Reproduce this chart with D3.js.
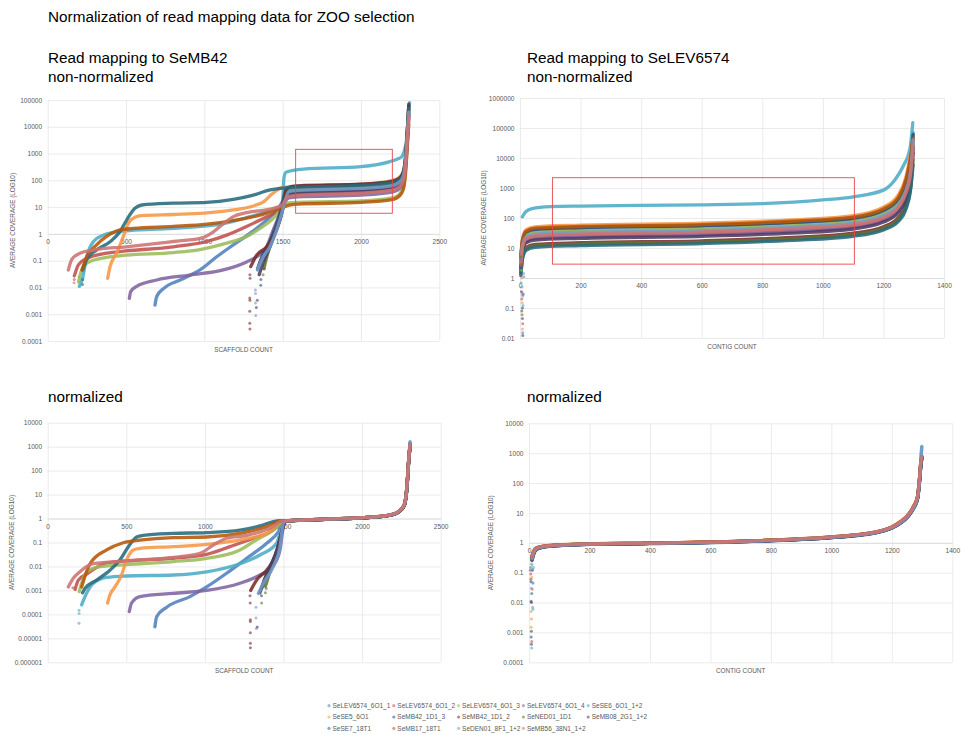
<!DOCTYPE html>
<html><head><meta charset="utf-8">
<script src="https://cdn.jsdelivr.net/npm/d3@7"></script>
<style>
body{margin:0;background:#fff}
text{font-family:"Liberation Sans",Arial,sans-serif}
</style>
</head><body>
<svg id="c" width="961" height="735"></svg>
<script>
// ---------- categories ----------
const seriesNames = ["SeLEV6574_6O1_1","SeLEV6574_6O1_2","SeLEV6574_6O1_3","SeLEV6574_6O1_4","SeSE6_6O1_1+2",
  "SeSE5_6O1","SeMB42_1D1_3","SeMB42_1D1_2","SeNED01_1D1","SeMB08_2G1_1+2",
  "SeSE7_18T1","SeMB17_18T1","SeDEN01_8F1_1+2","SeMB56_38N1_1+2"];
const seriesColors = ["#4F81BD","#C0504D","#9BBB59","#8064A2","#4BACC6","#F79646","#2C4D75",
  "#772C2A","#5F7530","#4D3B62","#276A7C","#B65708","#729ACA","#CD7371"];

// ---------- tick labels ----------
const scaffoldTicks = [0,500,1000,1500,2000,2500];
const contigTicks = [0,200,400,600,800,1000,1200,1400];
const yTicksA = [0.0001,0.001,0.01,0.1,1,10,100,1000,10000,100000];
const yTicksB = [0.01,0.1,1,10,100,1000,10000,100000,1000000];
const yTicksC = [0.000001,0.00001,0.0001,0.001,0.01,0.1,1,10,100,1000,10000];
const yTicksD = [0.0001,0.001,0.01,0.1,1,10,100,1000,10000];

// ---------- series values: [count, average coverage] ----------
// Read mapping to SeMB42, non-normalized
const semb42Raw = [
 [[685,0.0022],[696,0.0046],[739,0.009],[845,0.019],[972,0.045],[1079,0.14],[1185,0.39],[1291,1.05],[1398,3.3],[1462,7.8],[1498,16],[1520,32],[1600,38],[2000,45],[2200,58],[2245,75],[2270,130],[2285,500],[2295,4000],[2305,30000]],
 [[170,0.027],[196,0.07],[249,0.12],[376,0.19],[500,0.23],[802,0.33],[1015,0.52],[1143,0.9],[1270,1.9],[1398,4.4],[1498,9],[1530,25],[1600,29],[2000,34],[2200,44],[2245,58],[2270,100],[2285,400],[2295,3000],[2305,25000]],
 [[198,0.017],[217,0.045],[249,0.08],[334,0.12],[500,0.16],[802,0.2],[972,0.26],[1143,0.45],[1270,0.8],[1355,1.6],[1440,3.8],[1498,9],[1530,14],[1600,15],[2000,17],[2200,22],[2245,30],[2270,55],[2285,250],[2295,2000],[2305,15000]],
 [[521,0.0039],[530,0.007],[568,0.011],[696,0.019],[908,0.029],[1121,0.045],[1270,0.09],[1334,0.14],[1398,0.33],[1440,1.4],[1483,5.9],[1504,12],[1540,22],[1600,24],[2000,28],[2200,36],[2245,48],[2270,85],[2285,350],[2295,2500],[2305,20000]],
 [[202,0.011],[223,0.022],[249,0.14],[291,0.51],[355,0.9],[440,1.2],[500,1.3],[696,1.5],[908,1.75],[1121,2.4],[1291,4.4],[1440,8.3],[1498,12],[1508,120],[1520,200],[1632,262],[2000,324],[2185,500],[2240,650],[2260,760],[2280,1500],[2290,3000],[2300,15000],[2310,80000]],
 [[383,0.022],[398,0.06],[440,0.19],[483,0.8],[515,2.5],[557,4.2],[600,4.8],[800,5.3],[1000,6],[1100,6.8],[1200,8],[1300,10.5],[1380,16],[1430,30],[1470,45],[1500,55],[1600,58],[2000,70],[2200,100],[2245,130],[2270,220],[2285,800],[2295,6000],[2305,50000]],
 [[1340,0.05],[1370,0.15],[1410,0.4],[1450,1.5],[1480,5],[1500,14],[1520,45],[1560,58],[1600,60],[2000,70],[2200,92],[2245,120],[2270,200],[2285,800],[2295,6000],[2305,60000]],
 [[1296,0.06],[1334,0.16],[1398,0.33],[1440,0.8],[1483,3.3],[1504,10.5],[1525,45],[1560,60],[1600,62],[2000,72],[2200,90],[2245,115],[2270,190],[2285,700],[2295,5000],[2305,70000]],
 [[1380,0.05],[1400,0.15],[1430,0.5],[1460,1.5],[1490,5],[1510,15],[1540,40],[1600,45],[2000,52],[2200,68],[2245,90],[2270,150],[2285,600],[2295,4000],[2305,40000]],
 [[1350,0.03],[1380,0.1],[1420,0.35],[1455,1.2],[1485,4],[1505,12],[1535,30],[1600,34],[2000,40],[2200,52],[2245,70],[2270,120],[2285,450],[2295,3500],[2305,30000]],
 [[223,0.045],[249,0.11],[312,0.25],[398,0.51],[461,1.2],[504,3.3],[557,9],[600,12],[802,14],[1015,15],[1185,19.5],[1313,28],[1419,44],[1483,50],[1550,55],[1600,56],[2000,65],[2200,82],[2245,105],[2270,170],[2285,650],[2295,5000],[2305,50000]],
 [[219,0.045],[249,0.14],[312,0.39],[376,0.8],[461,1.4],[546,1.6],[802,1.9],[1015,2.3],[1228,3.5],[1355,5],[1483,9],[1550,12],[1600,13],[2000,15],[2200,19],[2245,26],[2270,45],[2285,200],[2295,1500],[2305,12000]],
 [[1339,0.045],[1377,0.14],[1419,0.33],[1462,1.4],[1494,5.9],[1515,16],[1540,38],[1600,42],[2000,50],[2200,64],[2245,85],[2270,140],[2285,550],[2295,4000],[2305,35000]],
 [[132,0.045],[153,0.11],[206,0.19],[291,0.25],[500,0.33],[802,0.52],[972,0.68],[1058,1.2],[1121,2.4],[1185,4.4],[1270,6.2],[1440,9],[1498,12],[1530,24],[1600,28],[2000,33],[2200,43],[2245,56],[2270,95],[2285,380],[2295,3000],[2305,25000]]
];
// scattered single points [count, coverage, series index]
const semb42RawDots = [[168,0.015,13],[170,0.02,1],[198,0.015,2],[200,0.025,2],[223,0.013,10],[223,0.02,10],
 [1291,0.03,7],[1292,0.022,7],[1290,0.004,7],[1291,0.0033,7],[1290,0.0013,7],[1290,0.00046,7],[1291,0.00028,7],
 [1326,0.008,12],[1327,0.006,12],[1326,0.0026,12],[1328,0.0009,12],[1338,0.0033,9],[1332,0.0018,9],
 [1360,0.012,6],[1361,0.02,6],[1383,0.08,8],[1382,0.05,8],[1375,0.03,8]];

// Read mapping to SeLEV6574, non-normalized
const selevRaw = [
 [[3,4.2],[8,15],[20,29],[50,37],[200,42],[600,49],[900,63],[1100,86],[1200,155],[1250,370],[1275,1300],[1290,7000],[1298,70000]],
 [[3,2.7],[8,9.5],[20,19],[50,24],[200,27],[600,31],[900,41],[1100,55],[1200,96],[1250,210],[1275,630],[1290,2800],[1298,35000]],
 [[3,3.7],[8,13],[20,26],[50,33],[200,37],[600,43],[900,56],[1100,76],[1200,135],[1250,310],[1275,1000],[1290,5000],[1298,30000]],
 [[3,2.4],[8,8.4],[20,17],[50,21],[200,24],[600,28],[900,36],[1100,49],[1200,84],[1250,180],[1275,530],[1290,2300],[1298,20000]],
 [[8,110],[11,125],[20,165],[40,205],[100,238],[200,250],[400,262],[600,275],[800,300],[1000,400],[1100,510],[1200,850],[1240,2000],[1266,5500],[1288,22000],[1297,150000]],
 [[3,6],[8,20],[20,41],[50,51],[200,58],[600,67],[900,87],[1100,120],[1200,230],[1250,600],[1275,2500],[1290,15000],[1298,50000]],
 [[3,4.8],[8,17],[20,34],[50,42],[200,48],[600,56],[900,72],[1100,98],[1200,180],[1250,440],[1275,1700],[1290,9000],[1298,60000]],
 [[3,1.5],[8,5.3],[20,10.5],[50,13.2],[200,15],[600,17.4],[900,22.5],[1100,31],[1200,51],[1250,105],[1275,280],[1290,1200],[1298,15000]],
 [[3,1.35],[8,4.7],[20,9.5],[50,11.9],[200,13.5],[600,15.7],[900,20],[1100,27.7],[1200,45],[1250,92],[1275,240],[1290,1050],[1298,9000]],
 [[3,2.1],[8,7.4],[20,15],[50,18.5],[200,21],[600,24.5],[900,31.5],[1100,43],[1200,73],[1250,155],[1275,440],[1290,1900],[1298,25000]],
 [[3,1.2],[8,4.2],[20,8.4],[50,10.6],[200,12],[600,14],[900,18],[1100,24.6],[1200,40],[1250,78],[1275,205],[1290,900],[1298,6000]],
 [[3,5.2],[8,18],[20,36],[50,46],[200,52],[600,60],[900,78],[1100,107],[1200,200],[1250,500],[1275,2000],[1290,11000],[1298,45000]],
 [[3,3.3],[8,11.5],[20,23],[50,29],[200,33],[600,38],[900,50],[1100,68],[1200,120],[1250,270],[1275,850],[1290,4000],[1298,40000]],
 [[3,2.9],[8,10],[20,20],[50,25.5],[200,29],[600,34],[900,44],[1100,60],[1200,104],[1250,230],[1275,700],[1290,3200],[1298,25000]]
];
const selevRawDots = [[3,4,0],[4,2.5,1],[5,1.8,2],[2,1.2,3],[6,1,5],[4,0.7,4],[7,0.5,12],[5,0.35,7],[8,0.28,13],[9,0.25,12],
 [6,0.2,1],[7,0.15,5],[8,0.1,9],[6,0.08,10],[7,0.06,11],[8,0.045,6],[9,0.03,1],[8,0.02,5],[9,0.015,0],[9,0.012,6],
 [12,1.4,12],[13,1.1,12],[10,0.3,0],[11,0.28,12],[5,3,11],[3,5,8],[10,0.12,4]];

// Read mapping to SeMB42, normalized
const semb42Norm = [
 [[682,0.00003],[693,0.00008],[757,0.0002],[905,0.00055],[1011,0.0014],[1138,0.0052],[1266,0.022],[1393,0.093],[1467,0.28],[1499,0.74],[1550,0.8],[1600,0.84],[1800,0.94],[2000,1.06],[2150,1.28],[2220,1.65],[2245,2.2],[2270,3.8],[2285,18],[2295,180],[2305,1300]],
 [[174,0.0011],[195,0.0027],[248,0.0048],[375,0.014],[498,0.017],[799,0.022],[1011,0.032],[1159,0.067],[1308,0.15],[1435,0.33],[1488,0.7],[1520,0.8],[1600,0.86],[1800,0.95],[2000,1.08],[2150,1.3],[2220,1.7],[2245,2.3],[2270,4],[2285,20],[2295,200],[2305,1200]],
 [[201,0.0009],[216,0.002],[248,0.006],[333,0.0098],[498,0.012],[799,0.016],[1011,0.022],[1223,0.049],[1329,0.13],[1435,0.33],[1488,0.7],[1520,0.8],[1600,0.85],[1800,0.95],[2000,1.08],[2150,1.3],[2220,1.7],[2245,2.3],[2270,4],[2285,20],[2295,190],[2305,1000]],
 [[519,0.00013],[534,0.0003],[587,0.00055],[799,0.00075],[1011,0.001],[1223,0.002],[1350,0.0044],[1435,0.011],[1478,0.049],[1499,0.46],[1520,0.8],[1600,0.85],[1800,0.94],[2000,1.07],[2150,1.29],[2220,1.68],[2245,2.25],[2270,3.9],[2285,19],[2295,190],[2305,1100]],
 [[216,0.00025],[237,0.00055],[290,0.002],[375,0.0035],[498,0.004],[799,0.0044],[1011,0.006],[1223,0.013],[1350,0.03],[1456,0.093],[1494,0.53],[1520,0.8],[1600,0.85],[1800,0.95],[2000,1.08],[2150,1.3],[2220,1.7],[2245,2.3],[2270,4],[2285,20],[2295,200],[2305,1500]],
 [[381,0.0003],[396,0.00065],[428,0.0014],[470,0.0044],[502,0.019],[545,0.049],[587,0.057],[799,0.067],[1011,0.084],[1223,0.13],[1393,0.24],[1467,0.63],[1500,0.8],[1600,0.86],[1800,0.96],[2000,1.09],[2150,1.32],[2220,1.72],[2245,2.35],[2270,4.1],[2285,21],[2295,210],[2305,1100]],
 [[1361,0.0012],[1390,0.004],[1430,0.015],[1465,0.07],[1490,0.3],[1505,0.75],[1550,0.8],[1600,0.84],[1800,0.94],[2000,1.06],[2150,1.28],[2220,1.66],[2245,2.2],[2270,3.8],[2285,18],[2295,180],[2305,1200]],
 [[1291,0.001],[1329,0.0027],[1393,0.007],[1456,0.035],[1499,0.46],[1515,0.8],[1600,0.85],[1800,0.95],[2000,1.07],[2150,1.29],[2220,1.68],[2245,2.25],[2270,3.9],[2285,19],[2295,190],[2305,1300]],
 [[1385,0.0015],[1410,0.005],[1440,0.02],[1470,0.08],[1495,0.4],[1510,0.8],[1600,0.85],[1800,0.95],[2000,1.08],[2150,1.3],[2220,1.7],[2245,2.3],[2270,4],[2285,20],[2295,200],[2305,1000]],
 [[1350,0.0008],[1380,0.003],[1420,0.012],[1460,0.05],[1490,0.3],[1510,0.78],[1600,0.84],[1800,0.94],[2000,1.06],[2150,1.28],[2220,1.66],[2245,2.2],[2270,3.8],[2285,18],[2295,180],[2305,1100]],
 [[222,0.0008],[237,0.0012],[311,0.0027],[396,0.007],[460,0.019],[513,0.067],[566,0.17],[608,0.2],[799,0.24],[1011,0.26],[1223,0.33],[1350,0.49],[1435,0.74],[1478,0.81],[1550,0.82],[1600,0.85],[1800,0.95],[2000,1.07],[2150,1.29],[2220,1.68],[2245,2.25],[2270,3.9],[2285,19],[2295,190],[2305,1200]],
 [[216,0.0014],[269,0.013],[375,0.049],[481,0.098],[587,0.125],[799,0.16],[1011,0.17],[1223,0.24],[1393,0.46],[1478,0.78],[1530,0.8],[1600,0.86],[1800,0.96],[2000,1.09],[2150,1.31],[2220,1.72],[2245,2.35],[2270,4.1],[2285,21],[2295,210],[2305,1000]],
 [[1340,0.00075],[1372,0.002],[1435,0.0098],[1478,0.067],[1499,0.63],[1515,0.8],[1600,0.85],[1800,0.95],[2000,1.08],[2150,1.3],[2220,1.7],[2245,2.3],[2270,4],[2285,20],[2295,200],[2305,1600]],
 [[131,0.0014],[163,0.0032],[205,0.006],[290,0.013],[498,0.017],[799,0.024],[969,0.035],[1054,0.079],[1138,0.15],[1266,0.2],[1435,0.46],[1488,0.78],[1520,0.8],[1600,0.86],[1800,0.96],[2000,1.09],[2150,1.32],[2220,1.72],[2245,2.35],[2270,4.1],[2285,21],[2295,210],[2305,1200]]
];
const semb42NormDots = [[199,0.00015,4],[200,0.00011,4],[199,0.000043,4],[1287,0.0006,7],[1288,0.0003,7],[1289,0.00006,7],
 [1289,0.00005,7],[1289,0.000017,7],[1289,0.0000063,7],[1289,0.000004,7],[1325,0.0002,12],[1325,0.00007,12],
 [1327,0.000026,12],[1333,0.00003,9],[1361,0.0003,8],[1360,0.0006,6],[1385,0.0008,8],[160,0.0013,1],[1390,0.0012,8]];

// Read mapping to SeLEV6574, normalized
const selevNorm = [
 [[10,0.3],[15,0.45],[25,0.64],[50,0.74],[100,0.82],[200,0.9],[400,0.96],[700,1.1],[1000,1.5],[1100,1.85],[1150,2.2],[1200,3.1],[1230,4.7],[1255,8],[1272,15],[1285,30],[1292,120],[1296,400],[1299,800]],
 [[10,0.35],[15,0.5],[25,0.67],[50,0.77],[100,0.85],[200,0.92],[400,0.98],[700,1.12],[1000,1.55],[1100,1.9],[1150,2.3],[1200,3.3],[1230,5],[1255,8.5],[1272,16],[1285,33],[1292,150],[1296,450],[1299,700]],
 [[10,0.32],[15,0.48],[25,0.66],[50,0.76],[100,0.84],[200,0.92],[400,0.97],[700,1.12],[1000,1.56],[1100,1.92],[1150,2.3],[1200,3.3],[1230,5.1],[1255,8.7],[1272,16],[1285,34],[1292,150],[1296,480],[1299,650]],
 [[10,0.28],[15,0.42],[25,0.62],[50,0.73],[100,0.81],[200,0.89],[400,0.95],[700,1.1],[1000,1.52],[1100,1.88],[1150,2.25],[1200,3.2],[1230,4.8],[1255,8.2],[1272,15],[1285,31],[1292,130],[1296,420],[1299,600]],
 [[10,0.3],[15,0.45],[25,0.64],[50,0.75],[100,0.83],[200,0.9],[400,0.97],[700,1.11],[1000,1.54],[1100,1.9],[1150,2.3],[1200,3.3],[1230,5],[1255,8.6],[1272,16],[1285,35],[1292,160],[1296,600],[1299,1700]],
 [[10,0.38],[15,0.53],[25,0.69],[50,0.78],[100,0.86],[200,0.93],[400,0.99],[700,1.14],[1000,1.58],[1100,1.95],[1150,2.35],[1200,3.4],[1230,5.3],[1255,9],[1272,17],[1285,36],[1292,170],[1296,520],[1299,700]],
 [[10,0.26],[15,0.4],[25,0.6],[50,0.72],[100,0.8],[200,0.88],[400,0.94],[700,1.08],[1000,1.48],[1100,1.82],[1150,2.2],[1200,3.1],[1230,4.6],[1255,7.8],[1272,14],[1285,29],[1292,120],[1296,380],[1299,650]],
 [[10,0.3],[15,0.46],[25,0.64],[50,0.75],[100,0.83],[200,0.9],[400,0.96],[700,1.11],[1000,1.53],[1100,1.9],[1150,2.3],[1200,3.25],[1230,5],[1255,8.4],[1272,16],[1285,32],[1292,140],[1296,450],[1299,750]],
 [[10,0.33],[15,0.48],[25,0.66],[50,0.76],[100,0.84],[200,0.91],[400,0.97],[700,1.12],[1000,1.55],[1100,1.9],[1150,2.3],[1200,3.3],[1230,5],[1255,8.5],[1272,16],[1285,33],[1292,145],[1296,470],[1299,600]],
 [[10,0.27],[15,0.41],[25,0.61],[50,0.73],[100,0.81],[200,0.89],[400,0.95],[700,1.09],[1000,1.5],[1100,1.85],[1150,2.22],[1200,3.15],[1230,4.7],[1255,8],[1272,15],[1285,30],[1292,125],[1296,400],[1299,700]],
 [[10,0.31],[15,0.46],[25,0.64],[50,0.75],[100,0.83],[200,0.9],[400,0.96],[700,1.1],[1000,1.52],[1100,1.88],[1150,2.27],[1200,3.25],[1230,4.9],[1255,8.3],[1272,15.5],[1285,32],[1292,135],[1296,430],[1299,800]],
 [[10,0.36],[15,0.51],[25,0.68],[50,0.77],[100,0.85],[200,0.92],[400,0.98],[700,1.13],[1000,1.57],[1100,1.93],[1150,2.33],[1200,3.35],[1230,5.2],[1255,8.8],[1272,16.5],[1285,35],[1292,160],[1296,500],[1299,750]],
 [[10,0.29],[15,0.44],[25,0.63],[50,0.74],[100,0.82],[200,0.9],[400,0.96],[700,1.1],[1000,1.52],[1100,1.87],[1150,2.25],[1200,3.2],[1230,4.8],[1255,8.2],[1272,15],[1285,31],[1292,140],[1296,550],[1299,1600]],
 [[10,0.34],[15,0.5],[25,0.67],[50,0.77],[100,0.85],[200,0.92],[400,0.98],[700,1.13],[1000,1.57],[1100,1.94],[1150,2.35],[1200,3.4],[1230,5.2],[1255,9],[1272,17],[1285,35],[1292,165],[1296,520],[1299,720]]
];
const selevNormDots = [[5,0.15,0],[6,0.09,1],[8,0.2,2],[4,0.12,3],[10,0.18,4],[9,0.07,5],[7,0.05,6],[11,0.12,7],[12,0.045,4],
 [8,0.03,12],[9,0.02,10],[11,0.028,13],[7,0.011,6],[8,0.01,7],[12,0.007,12],[13,0.006,4],[7,0.005,5],[8,0.0028,5],
 [7,0.0015,5],[8,0.0011,6],[7,0.0007,6],[9,0.0005,1],[8,0.0004,9],[9,0.0003,4],[12,0.13,12],[14,0.045,12],[15,0.15,4],[6,0.06,8]];

// highlighted regions [x0, x1, yLow, yHigh]
const highlightA = [1583,2200,5.9,1440];
const highlightB = [107,1104,2.9,2200];

// ---------- drawing ----------
const svg = d3.select("#c");
const grid = "#E6E6E6", tickColor = "#595959";
function fmt(v){ return v >= 1 ? String(v) : v.toFixed(Math.round(-Math.log10(v))); }
const fmtX = d3.format("d");

svg.append("text").attr("x",48).attr("y",22).attr("font-size",15.3).attr("fill","#000")
  .text("Normalization of read mapping data for ZOO selection");

const panels = [
 {left:47.7,right:439.3,top:100,bottom:341,xMax:2500,yT:yTicksA,xT:scaffoldTicks,data:semb42Raw,dots:semb42RawDots,
  t1:"Read mapping to SeMB42",t2:"non-normalized",tx:48,ty:62.5,xTitle:"SCAFFOLD COUNT",ytx:15,rect:highlightA},
 {left:520,right:944,top:98,bottom:338,xMax:1400,yT:yTicksB,xT:contigTicks,data:selevRaw,dots:selevRawDots,
  t1:"Read mapping to SeLEV6574",t2:"non-normalized",tx:527,ty:62.5,xTitle:"CONTIG COUNT",ytx:486,rect:highlightB},
 {left:47.7,right:440.7,top:422.7,bottom:662.3,xMax:2500,yT:yTicksC,xT:scaffoldTicks,data:semb42Norm,dots:semb42NormDots,
  t1:null,t2:"normalized",tx:48,ty:402,xTitle:"SCAFFOLD COUNT",ytx:14,rect:null},
 {left:529,right:952.3,top:423.3,bottom:662.3,xMax:1400,yT:yTicksD,xT:contigTicks,data:selevNorm,dots:selevNormDots,
  t1:null,t2:"normalized",tx:527,ty:402,xTitle:"CONTIG COUNT",ytx:493,rect:null}
];

panels.forEach(p => {
  const x = d3.scaleLinear().domain([0,p.xMax]).range([p.left,p.right]);
  const y = d3.scaleLog().domain([p.yT[0], p.yT[p.yT.length-1]]).range([p.bottom,p.top]);
  const g = svg.append("g");

  // titles
  if (p.t1) g.append("text").attr("x",p.tx).attr("y",p.ty).attr("font-size",15.3).text(p.t1);
  g.append("text").attr("x",p.tx).attr("y",p.t1 ? p.ty+19.5 : p.ty).attr("font-size",15.3).text(p.t2);

  // vertical gridlines
  const vg = g.append("g").attr("transform",`translate(0,${p.bottom})`)
    .call(d3.axisBottom(x).tickValues(p.xT).tickSize(-(p.bottom-p.top)).tickFormat(""));
  vg.select(".domain").remove();
  vg.selectAll("line").attr("stroke",grid).attr("stroke-width",0.8);

  // horizontal gridlines + y labels
  const ya = g.append("g").attr("transform",`translate(${p.left},0)`)
    .call(d3.axisLeft(y).tickValues(p.yT).tickFormat(fmt).tickSize(-(p.right-p.left)).tickPadding(5.5));
  ya.select(".domain").remove();
  ya.selectAll("line").attr("stroke",grid).attr("stroke-width",0.8);
  ya.selectAll("text").attr("fill",tickColor).attr("font-size",6.6).attr("font-family",'"Liberation Sans",Arial,sans-serif');

  // x axis crossing at 1
  const xa = g.append("g").attr("transform",`translate(0,${y(1)})`)
    .call(d3.axisBottom(x).tickValues(p.xT).tickFormat(fmtX).tickSize(0).tickPadding(5.8));
  xa.select(".domain").attr("stroke","#D9D9D9").attr("stroke-width",0.8);
  xa.selectAll("text").attr("fill",tickColor).attr("font-size",6.6).attr("font-family",'"Liberation Sans",Arial,sans-serif');

  // axis titles
  g.append("text").attr("x",(p.left+p.right)/2).attr("y",p.bottom+10.5).attr("text-anchor","middle")
    .attr("font-size",6.4).attr("fill",tickColor).text(p.xTitle);
  g.append("text").attr("transform",`translate(${p.ytx},${(p.top+p.bottom)/2}) rotate(-90)`)
    .attr("text-anchor","middle").attr("font-size",6.4).attr("fill",tickColor).text("AVERAGE COVERAGE (LOG10)");

  // series
  const line = d3.line().x(d=>x(d[0])).y(d=>y(d[1])).curve(d3.curveMonotoneX);
  p.data.forEach((arr,i) => {
    g.append("path").attr("d",line(arr)).attr("fill","none").attr("stroke",seriesColors[i])
      .attr("stroke-width",3.3).attr("stroke-opacity",0.88).attr("stroke-linecap","round").attr("stroke-linejoin","round");
  });
  g.selectAll("circle.dot").data(p.dots).join("circle").attr("class","dot")
    .attr("cx",d=>x(d[0])).attr("cy",d=>y(d[1])).attr("r",1.5)
    .attr("fill",d=>seriesColors[d[2]]).attr("fill-opacity",0.6);

  // highlighted region
  if (p.rect) {
    const [x0,x1,y0,y1] = p.rect;
    g.append("rect").attr("x",x(x0)).attr("y",y(y1)).attr("width",x(x1)-x(x0)).attr("height",y(y0)-y(y1))
      .attr("fill","none").attr("stroke","#E5484D").attr("stroke-width",0.9);
  }
});

// legend
const leg = svg.append("g");
seriesNames.forEach((n,i) => {
  const col = i % 5, row = Math.floor(i / 5);
  const lx = 329 + col*64.8, ly = 705.7 + row*11.3;
  leg.append("circle").attr("cx",lx).attr("cy",ly).attr("r",1.6).attr("fill",seriesColors[i]).attr("fill-opacity",0.55);
  leg.append("text").attr("x",lx+3.5).attr("y",ly+2.3).attr("font-size",6.5).attr("fill",tickColor).text(n);
});
</script>
</body></html>
